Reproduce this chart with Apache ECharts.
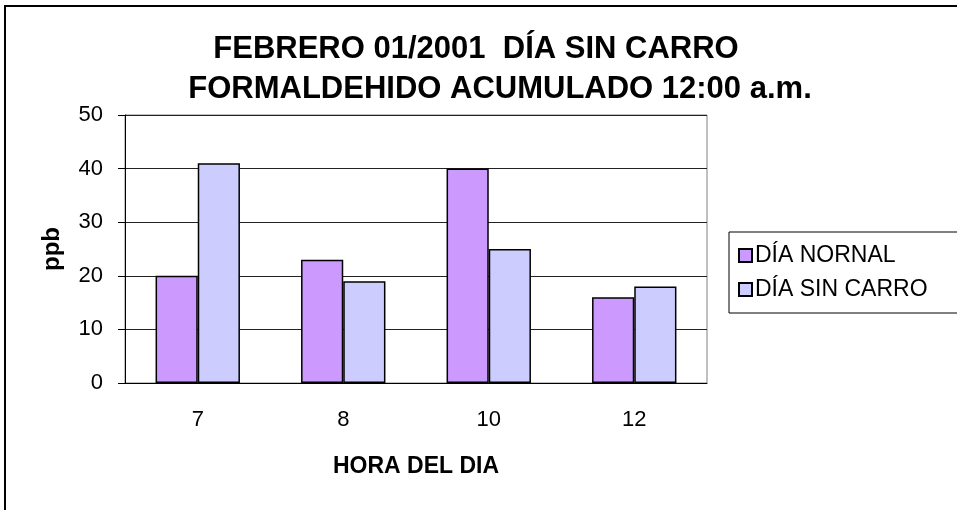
<!DOCTYPE html>
<html>
<head>
<meta charset="utf-8">
<script src="https://cdn.jsdelivr.net/npm/echarts@6/dist/echarts.min.js"></script>
<style>
    html, body { margin: 0; padding: 0; background: #fff; }
    #chart { width: 957px; height: 510px; }
</style>
</head>
<body>
<div id="chart"></div>
<script>
// datos
var horas = ['7', '8', '10', '12'];
var diaNormal = [20, 23, 40, 16];
var diaSinCarro = [41, 19, 25, 18];
var yTicks = [0, 10, 20, 30, 40, 50];

var fuente = '"Liberation Sans", Arial, sans-serif';

function initChart() {
    var chart = echarts.init(document.getElementById('chart'));

    var option = {
        backgroundColor: '#fff',
        animation: false,
        textStyle: { fontFamily: fuente, color: '#000' },
        graphic: [{
            // marco exterior
            type: 'rect',
            shape: { x: 5, y: 6, width: 970, height: 520 },
            style: { fill: 'none', stroke: '#000', lineWidth: 2 },
            silent: true
        }],
        title: [{
            text: 'FEBRERO 01/2001  DÍA SIN CARRO',
            left: 471,
            top: 29,
            textAlign: 'center',
            textStyle: { fontFamily: fuente, fontSize: 31, fontWeight: 'bold', color: '#000' }
        }, {
            text: 'FORMALDEHIDO ACUMULADO 12:00 a.m.',
            left: 495,
            top: 69,
            textAlign: 'center',
            textStyle: { fontFamily: fuente, fontSize: 31, fontWeight: 'bold', color: '#000' }
        }],
        legend: {
            orient: 'vertical',
            left: 729,
            top: 232,
            icon: 'rect',
            itemWidth: 13,
            itemHeight: 13,
            itemGap: 11,
            padding: [12, 80, 12, 9],
            borderColor: '#000',
            borderWidth: 1,
            textStyle: { fontFamily: fuente, fontSize: 23, color: '#000', padding: [0, 0, 0, -2] },
            data: ['DÍA NORNAL', 'DÍA SIN CARRO']
        },
        grid: {
            left: 125,
            top: 115,
            right: 250,
            bottom: 127,
            show: true,
            borderColor: '#808080',
            borderWidth: 1
        },
        xAxis: {
            type: 'category',
            data: horas,
            name: 'HORA DEL DIA',
            nameLocation: 'middle',
            nameGap: 72,
            nameTextStyle: { fontFamily: fuente, fontSize: 23, fontWeight: 'bold', color: '#000' },
            axisLine: { lineStyle: { color: '#000', width: 1 } },
            axisTick: { length: 7, lineStyle: { color: '#000' } },
            axisLabel: { fontFamily: fuente, fontSize: 22, color: '#000', margin: 26 }
        },
        yAxis: {
            type: 'value',
            min: yTicks[0],
            max: yTicks[yTicks.length - 1],
            interval: yTicks[1] - yTicks[0],
            name: 'ppb',
            nameLocation: 'middle',
            nameGap: 61,
            nameRotate: 90,
            nameTextStyle: { fontFamily: fuente, fontSize: 24, fontWeight: 'bold', color: '#000' },
            axisLine: { show: true, lineStyle: { color: '#000', width: 1 } },
            axisTick: { show: true, length: 7, lineStyle: { color: '#000' } },
            axisLabel: { fontFamily: fuente, fontSize: 22, color: '#000', margin: 22 },
            splitLine: { lineStyle: { color: '#222', width: 1 } }
        },
        series: [{
            name: 'DÍA NORNAL',
            type: 'bar',
            data: diaNormal,
            barGap: '0%',
            barCategoryGap: '42%',
            itemStyle: { color: '#CC99FF', borderColor: '#000', borderWidth: 1.5 }
        }, {
            name: 'DÍA SIN CARRO',
            type: 'bar',
            data: diaSinCarro,
            itemStyle: { color: '#CCCCFF', borderColor: '#000', borderWidth: 1.5 }
        }]
    };

    chart.setOption(option);
    window.chart = chart;
}

initChart();
</script>
</body>
</html>
